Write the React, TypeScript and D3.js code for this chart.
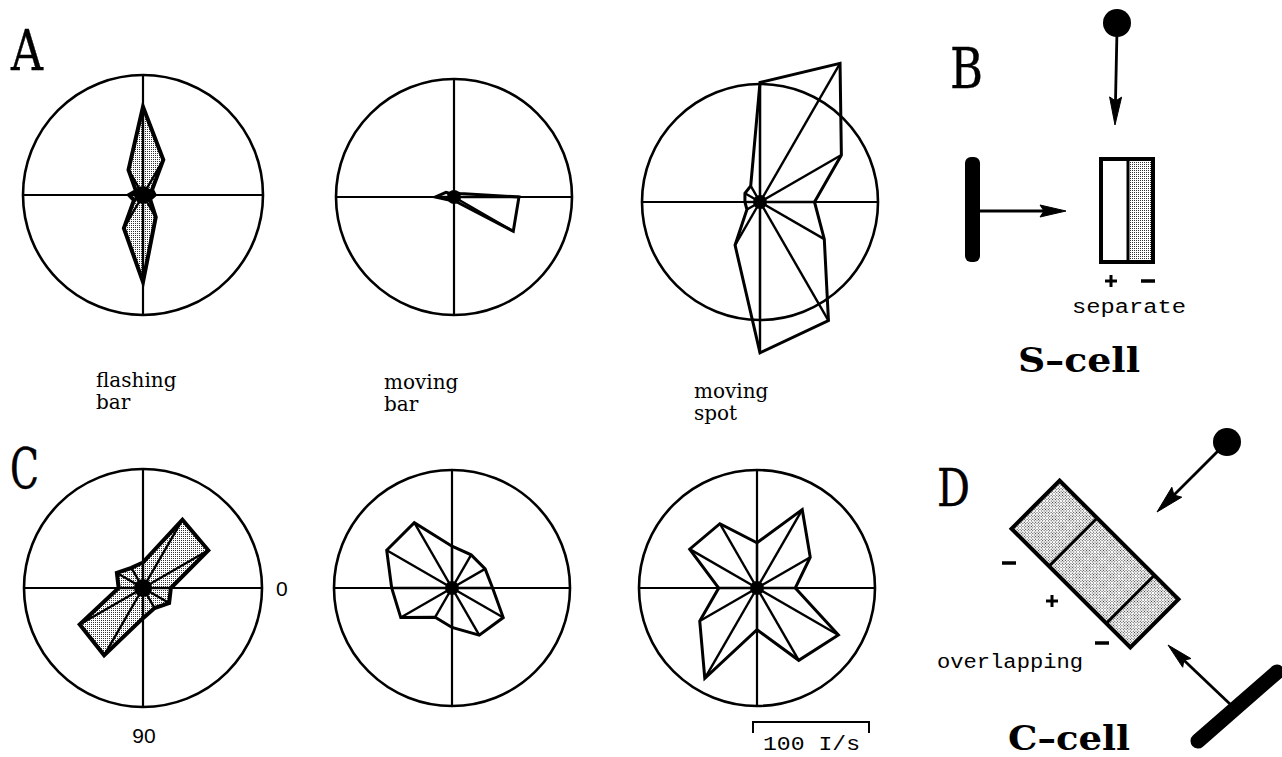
import React from "react";
import * as d3 from "d3";

// Stimulus directions (degrees, clockwise from 3 o'clock; 90 points down)
const directions = [0, 30, 60, 90, 120, 150, 180, 210, 240, 270, 300, 330];

// Responses (impulses/s) of the S-cell (row A)
const sFlashingBar = [10, 7, 22, 75, 33, 9, 12, 7, 25, 76, 35, 9];
const sMovingBar = [56, 59, 5, 3, 3, 5, 16, 8, 3, 3, 4, 6];
const sMovingSpot = [47, 64, 118, 130, 43, 13, 13, 15, 16, 103, 138, 81];

// Responses (impulses/s) of the C-cell (row C)
const cFlashingBar = [24, 26, 20, 26, 67, 63, 21, 26, 20, 22, 68, 65];
const cMovingBar = [35, 51, 47, 34, 29, 51, 52, 65, 65, 36, 33, 33];
const cMovingSpot = [33, 81, 72, 36, 90, 57, 33, 67, 64, 39, 78, 53];

const stimulusNames = [
  ["flashing", "bar"],
  ["moving", "bar"],
  ["moving", "spot"],
];
const angleTickLabels = ["0", "90"];
const scaleBarValue = 100;
const scaleBarUnit = "I/s";
const panelLetters = ["A", "B", "C", "D"];
const cellNames = ["S–cell", "C–cell"];
const fieldNames = ["separate", "overlapping"];

const W = 1282;
const H = 757;

// rate -> pixel radius
const rScale = d3.scaleLinear().domain([0, 100]).range([0, 116]);
const toRad = (deg: number) => ((deg + 90) * Math.PI) / 180;

const radialLine = d3
  .lineRadial<number>()
  .angle((_, i) => toRad(directions[i]))
  .radius((d) => rScale(d))
  .curve(d3.curveLinearClosed);

type Polar = { cx: number; cy: number; R: number; values: number[]; shaded: boolean };

const polars: Polar[] = [
  { cx: 143, cy: 195, R: 120, values: sFlashingBar, shaded: true },
  { cx: 454, cy: 197, R: 118, values: sMovingBar, shaded: false },
  { cx: 760, cy: 202, R: 118, values: sMovingSpot, shaded: false },
  { cx: 143, cy: 588, R: 119, values: cFlashingBar, shaded: true },
  { cx: 452, cy: 588, R: 118, values: cMovingBar, shaded: false },
  { cx: 757, cy: 588, R: 118, values: cMovingSpot, shaded: false },
];

function PolarPlot({ p }: { p: Polar }) {
  const sw = p.shaded ? 4 : 3;
  return (
    <g transform={`translate(${p.cx},${p.cy})`}>
      <circle r={p.R} fill="none" stroke="#000" strokeWidth={2.6} />
      <line x1={-p.R} x2={p.R} y1={0} y2={0} stroke="#000" strokeWidth={2.2} />
      <line x1={0} x2={0} y1={-p.R} y2={p.R} stroke="#000" strokeWidth={2.2} />
      <path
        d={radialLine(p.values) || ""}
        fill={p.shaded ? "url(#stipple)" : "none"}
        stroke="#000"
        strokeWidth={sw}
        strokeLinejoin="miter"
      />
      {p.values.map((v, i) => {
        const [x, y] = d3.pointRadial(toRad(directions[i]), rScale(v));
        return <line key={i} x1={0} y1={0} x2={x} y2={y} stroke="#000" strokeWidth={2.4} />;
      })}
      <circle r={p.shaded ? 9 : 7} fill="#000" />
    </g>
  );
}

// straight shaft with a narrow filled dart head at (x2,y2)
function Arrow({ x1, y1, x2, y2, len, half }: { x1: number; y1: number; x2: number; y2: number; len: number; half: number }) {
  const dx = x2 - x1;
  const dy = y2 - y1;
  const L = Math.hypot(dx, dy);
  const ux = dx / L;
  const uy = dy / L;
  const bx = x2 - ux * len;
  const by = y2 - uy * len;
  const nx = -uy;
  const ny = ux;
  const head = `M${x2},${y2} L${bx + nx * half},${by + ny * half} L${bx + ux * 4},${by + uy * 4} L${bx - nx * half},${by - ny * half} Z`;
  return (
    <g>
      <line x1={x1} y1={y1} x2={bx + ux * 4} y2={by + uy * 4} stroke="#000" strokeWidth={2.8} />
      <path d={head} fill="#000" stroke="#000" strokeWidth={1} strokeLinejoin="round" />
    </g>
  );
}

const serif = "'DejaVu Serif', serif";
const mono = "'Liberation Mono', 'DejaVu Sans Mono', monospace";
const sans = "'Liberation Sans', Arial, sans-serif";

function Letter({ x, y, w, size, ch }: { x: number; y: number; w: number; size: number; ch: string }) {
  return (
    <text
      x={x}
      y={y}
      fontFamily={serif}
      fontSize={size}
      textLength={w}
      lengthAdjust="spacingAndGlyphs"
      stroke="#000"
      strokeWidth={0.4}
    >
      {ch}
    </text>
  );
}

function Sign({ x, y, ch }: { x: number; y: number; ch: string }) {
  return ch === "+" ? (
    <g stroke="#000" strokeWidth={3}>
      <line x1={x - 6} x2={x + 6} y1={y} y2={y} />
      <line x1={x} x2={x} y1={y - 6} y2={y + 6} />
    </g>
  ) : (
    <line x1={x - 7} x2={x + 7} y1={y} y2={y} stroke="#000" strokeWidth={3.5} />
  );
}

export default function App() {
  const labelX = [96, 384, 694];
  const labelY = [387, 389, 398];
  const dRot = { cx: 1095, cy: 564, len: 168, wid: 68 };
  return (
    <svg
      width={W}
      height={H}
      viewBox={`0 0 ${W} ${H}`}
      style={{ position: "absolute", left: 0, top: 0, background: "#fff" }}
    >
      <defs>
        <pattern id="stipple" width="2" height="2" patternUnits="userSpaceOnUse">
          <rect width="2" height="2" fill="#fff" />
          <rect x="0" y="0" width="1" height="1" fill="#333" />
        </pattern>
      </defs>
      <rect width={W} height={H} fill="#fff" />

      {/* panel letters */}
      <Letter x={11} y={70} w={32} size={56} ch={panelLetters[0]} />
      <Letter x={950} y={88} w={33} size={56} ch={panelLetters[1]} />
      <Letter x={10} y={488} w={29} size={56} ch={panelLetters[2]} />
      <Letter x={937} y={506} w={33} size={52} ch={panelLetters[3]} />

      {polars.map((p, i) => (
        <PolarPlot key={i} p={p} />
      ))}

      {/* stimulus names */}
      {stimulusNames.map((lines, i) => (
        <g key={i}>
          {lines.map((s, j) => (
            <text key={j} x={labelX[i]} y={labelY[i] + j * 22} fontFamily={serif} fontSize={20}>
              {s}
            </text>
          ))}
        </g>
      ))}

      {/* direction labels */}
      <text x={276} y={596} fontFamily={sans} fontSize={21}>{angleTickLabels[0]}</text>
      <text x={144} y={743} fontFamily={sans} fontSize={21} textAnchor="middle">{angleTickLabels[1]}</text>

      {/* scale bar: length of 100 I/s on the radial scale */}
      <path
        d={`M753,733 V722 H${753 + rScale(scaleBarValue)} V733`}
        fill="none"
        stroke="#000"
        strokeWidth={2}
      />
      <text x={763} y={750} fontFamily={mono} fontSize={21} textLength={97} lengthAdjust="spacingAndGlyphs">
        {`${scaleBarValue} ${scaleBarUnit}`}
      </text>

      {/* B: S-cell receptive field */}
      <circle cx={1117} cy={23} r={14} fill="#000" />
      <Arrow x1={1117} y1={30} x2={1115} y2={125} len={28} half={6} />
      <rect x={965} y={157} width={15} height={105} rx={6} fill="#000" />
      <Arrow x1={980} y1={211} x2={1066} y2={211} len={26} half={6} />
      <rect x={1128} y={159} width={25} height={103} fill="url(#stipple)" />
      <rect x={1101} y={159} width={52} height={103} fill="none" stroke="#000" strokeWidth={4} />
      <line x1={1128} y1={159} x2={1128} y2={262} stroke="#000" strokeWidth={3} />
      <Sign x={1111} y={281} ch="+" />
      <Sign x={1148} y={281} ch="-" />
      <text x={1072} y={313} fontFamily={mono} fontSize={20} textLength={114} lengthAdjust="spacingAndGlyphs">{fieldNames[0]}</text>
      <text x={1018} y={372} fontFamily={serif} fontWeight="bold" fontSize={33} textLength={122} lengthAdjust="spacingAndGlyphs">{cellNames[0]}</text>

      {/* D: C-cell receptive field */}
      <g transform={`translate(${dRot.cx},${dRot.cy}) rotate(45)`}>
        <rect x={-dRot.len / 2} y={-dRot.wid / 2} width={dRot.len} height={dRot.wid} fill="url(#stipple)" stroke="#000" strokeWidth={4} />
        <line x1={-31} x2={-31} y1={-dRot.wid / 2} y2={dRot.wid / 2} stroke="#000" strokeWidth={3} />
        <line x1={50} x2={50} y1={-dRot.wid / 2} y2={dRot.wid / 2} stroke="#000" strokeWidth={3} />
      </g>
      <Sign x={1009} y={563} ch="-" />
      <Sign x={1052} y={601} ch="+" />
      <Sign x={1102} y={643} ch="-" />
      <circle cx={1227} cy={442} r={14} fill="#000" />
      <Arrow x1={1227} y1={442} x2={1157} y2={512} len={28} half={7} />
      <line x1={1198} y1={741} x2={1277} y2={672} stroke="#000" strokeWidth={15} strokeLinecap="round" />
      <Arrow x1={1231} y1={705} x2={1168} y2={645} len={26} half={6} />
      <text x={937} y={668} fontFamily={mono} fontSize={20} textLength={146} lengthAdjust="spacingAndGlyphs">{fieldNames[1]}</text>
      <text x={1008} y={750} fontFamily={serif} fontWeight="bold" fontSize={33} textLength={122} lengthAdjust="spacingAndGlyphs">{cellNames[1]}</text>
    </svg>
  );
}
